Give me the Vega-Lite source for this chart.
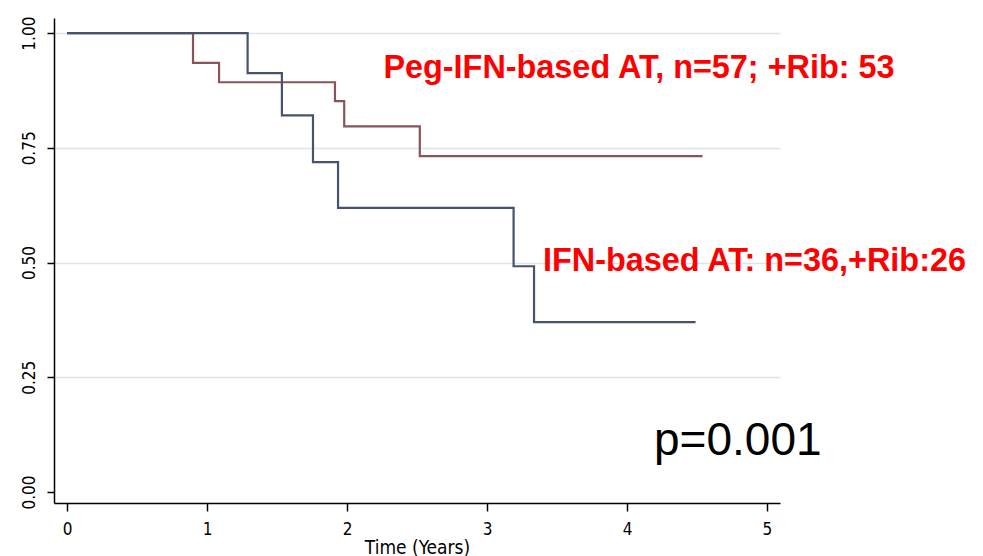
{
  "$schema": "https://vega.github.io/schema/vega-lite/v6.json",
  "width": 726,
  "height": 485,
  "autosize": {"type": "none"},
  "padding": {"left": 54, "top": 18, "right": 203, "bottom": 53},
  "background": "white",
  "config": {"view": {"stroke": null}},
  "datasets": {
    "curves": [
      {"group": "Peg-IFN", "t": 0, "s": 1.0},
      {"group": "Peg-IFN", "t": 0.9, "s": 0.935},
      {"group": "Peg-IFN", "t": 1.086, "s": 0.893},
      {"group": "Peg-IFN", "t": 1.914, "s": 0.852},
      {"group": "Peg-IFN", "t": 1.98, "s": 0.797},
      {"group": "Peg-IFN", "t": 2.52, "s": 0.732},
      {"group": "Peg-IFN", "t": 4.54, "s": 0.732},
      {"group": "IFN", "t": 0, "s": 1.0},
      {"group": "IFN", "t": 1.29, "s": 0.913},
      {"group": "IFN", "t": 1.535, "s": 0.821},
      {"group": "IFN", "t": 1.757, "s": 0.719},
      {"group": "IFN", "t": 1.936, "s": 0.619},
      {"group": "IFN", "t": 3.19, "s": 0.492},
      {"group": "IFN", "t": 3.336, "s": 0.37},
      {"group": "IFN", "t": 4.49, "s": 0.37}
    ],
    "labels": [
      {"t": 2.26, "s": 0.902, "label": "Peg-IFN-based AT, n=57; +Rib: 53"},
      {"t": 3.40, "s": 0.481, "label": "IFN-based AT: n=36,+Rib:26"}
    ],
    "pval": [
      {"t": 4.193, "s": 0.081, "label": "p=0.001"}
    ]
  },
  "layer": [
    {
      "data": {"name": "curves"},
      "mark": {"type": "line", "interpolate": "step-after", "strokeWidth": 2.2},
      "encoding": {
        "x": {
          "field": "t", "type": "quantitative",
          "scale": {"domain": [-0.093, 5.093], "nice": false, "zero": false},
          "axis": {
            "title": "Time (Years)",
            "values": [0, 1, 2, 3, 4, 5],
            "format": "d",
            "grid": false,
            "domainColor": "#000000", "domainWidth": 1.5,
            "tickColor": "#000000", "tickWidth": 1.5, "tickSize": 8,
            "labelFont": "DejaVu Sans Condensed", "labelFontSize": 17, "labelColor": "#000000",
            "labelPadding": 10,
            "titleFont": "DejaVu Sans Condensed", "titleFontSize": 19, "titleFontWeight": "normal", "titleColor": "#000000",
            "titleY": 50, "titleBaseline": "alphabetic"
          }
        },
        "y": {
          "field": "s", "type": "quantitative",
          "scale": {"domain": [-0.024, 1.033], "nice": false, "zero": false},
          "axis": {
            "title": null,
            "values": [0, 0.25, 0.5, 0.75, 1],
            "format": ".2f",
            "grid": true,
            "gridColor": "#DFE3EA",
            "gridWidth": 1.5,
            "gridOpacity": {"condition": {"test": "datum.value == 0", "value": 0}, "value": 1},
            "domainColor": "#000000", "domainWidth": 1.5,
            "tickColor": "#000000", "tickWidth": 1.5, "tickSize": 7,
            "labelAngle": -90, "labelAlign": "center", "labelBaseline": "bottom",
            "labelFont": "DejaVu Sans Condensed", "labelFontSize": 17, "labelColor": "#000000",
            "labelPadding": 9
          }
        },
        "color": {
          "field": "group", "type": "nominal",
          "scale": {"domain": ["Peg-IFN", "IFN"], "range": ["#8C525A", "#46536A"]},
          "legend": null
        }
      }
    },
    {
      "data": {"name": "labels"},
      "mark": {"type": "text", "align": "left", "baseline": "alphabetic", "font": "Liberation Sans", "fontWeight": "bold", "fontSize": 32.4, "color": "#FF0000"},
      "encoding": {
        "x": {"field": "t", "type": "quantitative"},
        "y": {"field": "s", "type": "quantitative"},
        "text": {"field": "label"}
      }
    },
    {
      "data": {"name": "pval"},
      "mark": {"type": "text", "align": "left", "baseline": "alphabetic", "font": "Liberation Sans", "fontSize": 46, "color": "#000000"},
      "encoding": {
        "x": {"field": "t", "type": "quantitative"},
        "y": {"field": "s", "type": "quantitative"},
        "text": {"field": "label"}
      }
    }
  ]
}
